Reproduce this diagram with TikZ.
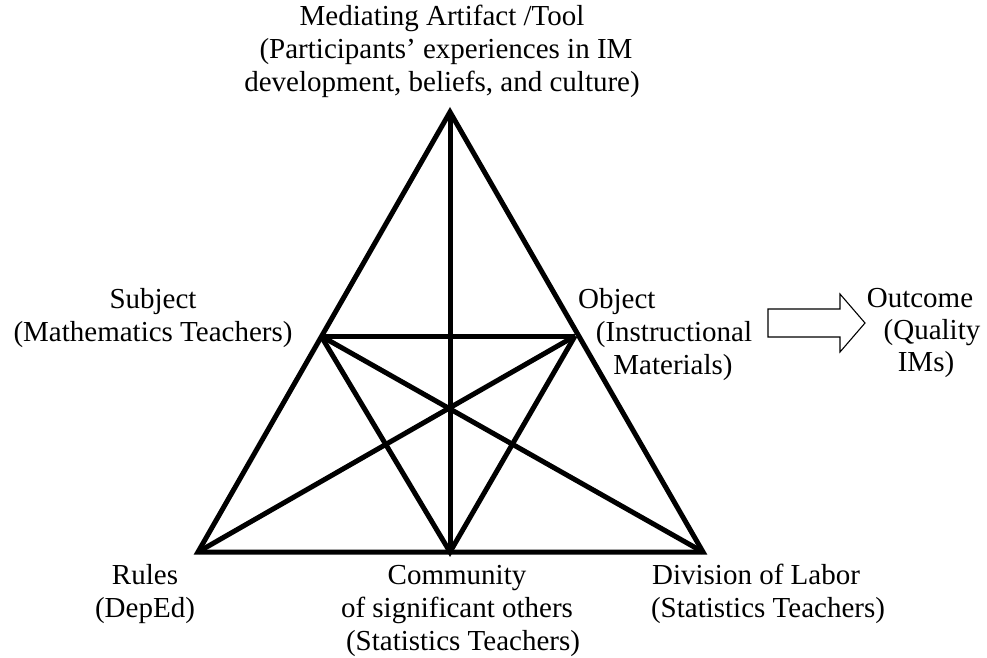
\documentclass[tikz,border=0pt]{standalone}
\usepackage{fontspec}
\setmainfont{Liberation Serif}
\begin{document}
\begin{tikzpicture}[x=1pt,y=-1pt,
  edge/.style={line width=5pt, line cap=butt},
  lbl/.style={font=\fontsize{29}{33}\selectfont, inner sep=0pt, anchor=base},
  hollowarrow/.style={draw, line width=1.1pt, line join=miter, fill=white}]
\useasboundingbox (0,0) rectangle (987,657);

% corners of the activity triangle and the inner points
\coordinate (apex) at (450,112);
\coordinate (rules) at (198,552);
\coordinate (division) at (703,552);
\coordinate (community) at (450,552);
\coordinate (subject) at (321,336);
\coordinate (object) at (575,336);

% outer triangle
\draw[edge, line join=miter] (apex) -- (rules) -- (division) -- cycle;
% inner connections
\draw[edge] (apex) -- (community);
\draw[edge] (subject) -- (object);
\draw[edge, line join=miter] (subject) -- (community) -- (object);
\draw[edge] (subject) -- (division);
\draw[edge] (object) -- (rules);

% hollow block arrow towards the outcome
\draw[hollowarrow] (768,309) -- (840,309) -- (840,294) -- (865,323)
  -- (840,352) -- (840,337) -- (768,337) -- cycle;

% mediating artifact
\node[lbl] (tool1) at (442,25) {Mediating Artifact /Tool};
\node[lbl] (tool2) at (446,58) {(Participants’ experiences in IM};
\node[lbl] (tool3) at (442,91) {development, beliefs, and culture)};

% subject
\node[lbl] (subj1) at (153,308) {Subject};
\node[lbl] (subj2) at (153,341) {(Mathematics Teachers)};

% object
\node[lbl, anchor=base west] (obj1) at (578,308) {Object};
\node[lbl] (obj2) at (674,341) {(Instructional};
\node[lbl] (obj3) at (673,374) {Materials)};

% outcome
\node[lbl] (out1) at (920,307) {Outcome};
\node[lbl] (out2) at (932,339) {(Quality};
\node[lbl] (out3) at (926,371) {IMs)};

% rules
\node[lbl] (rul1) at (145,584) {Rules};
\node[lbl] (rul2) at (145,617) {(DepEd)};

% community
\node[lbl] (com1) at (457,584) {Community};
\node[lbl] (com2) at (457,617) {of significant others};
\node[lbl] (com3) at (463,650) {(Statistics Teachers)};

% division of labor
\node[lbl] (div1) at (756,584) {Division of Labor};
\node[lbl] (div2) at (768,617) {(Statistics Teachers)};
\end{tikzpicture}
\end{document}
